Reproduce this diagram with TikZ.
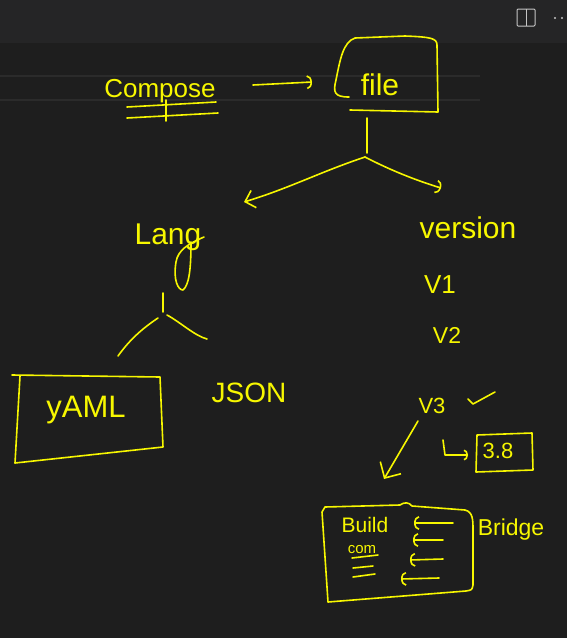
\documentclass[tikz,border=0pt]{standalone}
\usepackage{fontspec}
\setmainfont{Liberation Sans}
\usetikzlibrary{arrows.meta}
\definecolor{bgmain}{HTML}{1E1E1E}
\definecolor{bgtop}{HTML}{252526}
\definecolor{rule}{HTML}{2B2B2B}
\definecolor{ink}{HTML}{F7F700}
\definecolor{icon}{HTML}{C5C5C5}
\tikzset{
  hand/.style={draw=ink, line width=1.6pt, line cap=round, line join=round},
  txt/.style={text=ink, anchor=base, inner sep=0pt},
  barb/.style={-{Straight Barb[length=9pt,width=18pt,line width=1.6pt]}},
  arc/.style={-{Arc Barb[length=5pt,width=14pt,line width=1.6pt]}},
}
\begin{document}
\begin{tikzpicture}[x=1pt,y=-1pt]
\useasboundingbox (0,0) rectangle (567,638);
% background
\fill[bgmain] (0,0) rectangle (567,638);
\fill[bgtop] (0,0) rectangle (567,43);
\draw[rule, line width=2pt] (0,76) -- (480,76);
\draw[rule, line width=2pt] (0,100) -- (480,100);
% top right icons
\draw[icon, line width=1pt, rounded corners=1pt] (517,9) rectangle (535,26);
\draw[icon, line width=1pt] (526,9) -- (526,26);
\fill[icon] (555,18) circle (1.1);
\fill[icon] (562,18) circle (1.1);

% ---- Compose and file ----
\node[txt, font=\fontsize{26}{26}\selectfont] (compose) at (160,97) {Compose};
\draw[hand] (127,107) -- (216,102);
\draw[hand] (127,118) -- (218,113);
\draw[hand] (166,100) -- (166,121);

\node[txt, font=\fontsize{30}{30}\selectfont] (file) at (380,95) {file};
\draw[hand] (349,97) .. controls (334,97) and (333,92) .. (336,80)
  .. controls (340,60) and (343,42) .. (355,38) -- (405,36)
  .. controls (430,37) and (437,38) .. (437,45) -- (438,112) -- (350,110);

\coordinate (arrA) at (253,85);
\coordinate (arrB) at (312,82);
\draw[hand, arc] (arrA) -- (arrB);

% ---- fork from file ----
\coordinate (ftop) at (367,118);
\coordinate (fork1) at (365,157);
\coordinate (tolang) at (244,202);
\coordinate (tover) at (441,188);
\draw[hand] (ftop) -- (367,153);
\draw[hand, barb] (fork1) .. controls (320,172) and (290,188) .. (tolang);
\draw[hand, arc] (fork1) .. controls (390,170) and (415,180) .. (tover);

% ---- Lang branch ----
\node[txt, font=\fontsize{30}{30}\selectfont] (lang) at (168,244) {Lang};
\draw[hand] (204,237) .. controls (188,244) and (178,250) .. (176,262)
  .. controls (173,280) and (178,290) .. (183,290)
  .. controls (189,285) and (191,270) .. (191,242);
\coordinate (lfork) at (163,315);
\coordinate (tyaml) at (118,356);
\coordinate (tjson) at (207,339);
\draw[hand] (163,293) -- (163,312);
\draw[hand] (158,318) .. controls (140,330) and (128,342) .. (tyaml);
\draw[hand] (167,315) .. controls (180,322) and (195,336) .. (tjson);

\draw[hand] (12,375) -- (160,377) -- (163,447) -- (15,463);
\draw[hand] (20,376) -- (15,463);
\node[txt, font=\fontsize{31}{31}\selectfont] (yaml) at (86,417) {yAML};
\node[txt, font=\fontsize{28}{28}\selectfont] (json) at (249,402) {JSON};

% ---- version branch ----
\node[txt, font=\fontsize{30}{30}\selectfont] (version) at (468,238) {version};
\node[txt, font=\fontsize{26}{26}\selectfont] (v1) at (440,293) {V1};
\node[txt, font=\fontsize{23}{23}\selectfont] (v2) at (447,343) {V2};
\node[txt, font=\fontsize{22}{22}\selectfont] (v3) at (432,413) {V3};
\draw[hand] (468,399) -- (473,404) -- (495,392);

\coordinate (hookA) at (443,440);
\coordinate (hookB) at (468,455);
\draw[hand, -{Arc Barb[length=4pt,width=11pt,line width=1.6pt]}] (hookA) -- (445,455) -- (hookB);
\draw[hand] (477,435) -- (532,433) -- (533,470) -- (476,472) -- cycle;
\node[txt, font=\fontsize{22}{22}\selectfont] (v38) at (498,458) {3.8};

\coordinate (v3down) at (384,479);
\draw[hand, -{Straight Barb[length=12pt,width=24pt,line width=1.6pt]}] (418,421) -- (v3down);

% ---- Build box ----
\draw[hand] (325,507) -- (400,505) .. controls (404,502) and (409,502) .. (412,506)
  -- (465,510) .. controls (473,512) and (473,520) .. (473,530) -- (473,585)
  .. controls (472,590) .. (466,591) -- (328,602) -- (322,512) -- cycle;
\node[txt, font=\fontsize{21}{21}\selectfont] (build) at (365,532) {Build};
\node[txt, font=\fontsize{15}{15}\selectfont] (com) at (362,553) {com};
\draw[hand] (352,558) -- (378,555);
\draw[hand] (353,568) -- (373,566);
\draw[hand] (353,577) -- (375,574);
\coordinate (a1s) at (453,523); \coordinate (a1e) at (414,523);
\coordinate (a2s) at (443,540); \coordinate (a2e) at (413,540);
\coordinate (a3s) at (443,559); \coordinate (a3e) at (410,560);
\coordinate (a4s) at (439,578); \coordinate (a4e) at (401,579);
\foreach \s/\e in {a1s/a1e,a2s/a2e,a3s/a3e,a4s/a4e}
  \draw[hand, -{Arc Barb[length=5pt,width=14pt,line width=1.6pt]}] (\s) -- (\e);
\node[txt, font=\fontsize{23}{23}\selectfont] (bridge) at (511,535) {Bridge};
\end{tikzpicture}
\end{document}
